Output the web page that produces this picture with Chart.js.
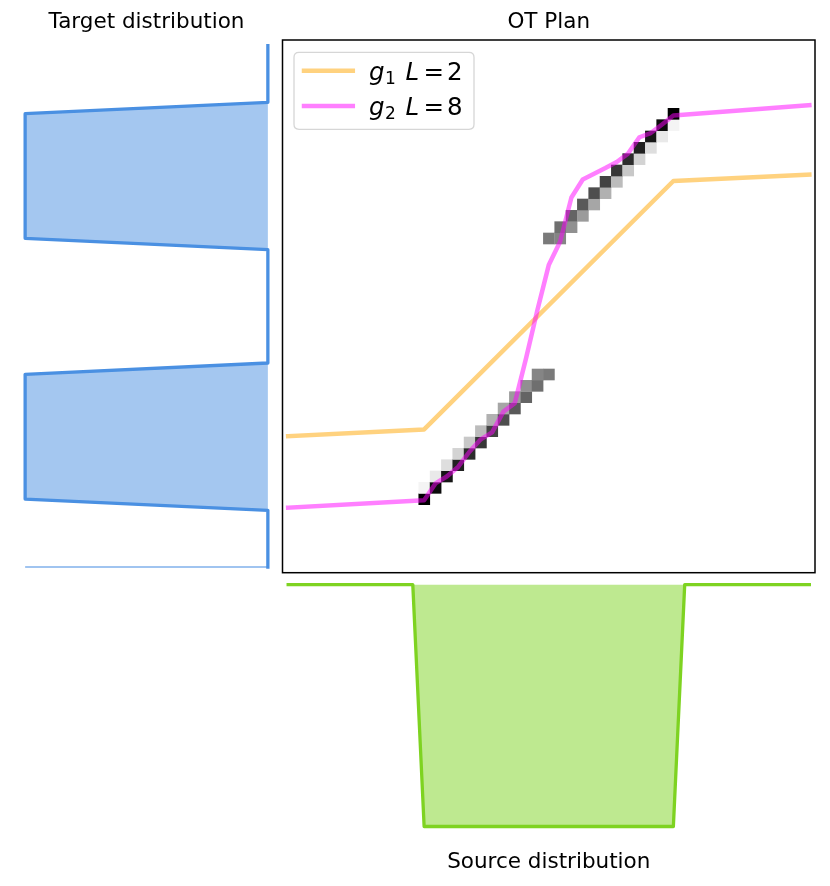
<!DOCTYPE html>
<html>
<head>
<meta charset="utf-8">
<script src="https://cdn.jsdelivr.net/npm/chart.js@4/dist/chart.umd.min.js"></script>
<style>
html,body{margin:0;padding:0;background:#fff;}
#wrap{position:relative;width:830px;height:886px;overflow:hidden;}
canvas{position:absolute;left:0;top:0;}
</style>
</head>
<body>
<div id="wrap">
<canvas id="left" width="830" height="886"></canvas>
<canvas id="bottom" width="830" height="886"></canvas>
<canvas id="main" width="830" height="886"></canvas>
</div>
<script>
// ---------- data ----------
const binIndex = [0,1,2,3,4,5,6,7,8,9,10,11,12,13,14,15,16,17,18,19,20,21,22,23,24,25,26,27,28,29,30,31,32,33,34,35,36,37,38,39,40,41,42,43,44,45,46];

// target distribution (left panel), one value per bin
const targetB = [0,0,0,0,0,0,
  0.0417,0.0417,0.0417,0.0417,0.0417,0.0417,0.0417,0.0417,0.0417,0.0417,0.0417,0.0417,
  0,0,0,0,0,0,0,0,0,0,0,
  0.0417,0.0417,0.0417,0.0417,0.0417,0.0417,0.0417,0.0417,0.0417,0.0417,0.0417,0.0417,
  0,0,0,0,0,0];

// source distribution (bottom panel), one value per bin
const sourceA = [0,0,0,0,0,0,0,0,0,0,0,0,
  0.0435,0.0435,0.0435,0.0435,0.0435,0.0435,0.0435,0.0435,0.0435,0.0435,0.0435,0.0435,
  0.0435,0.0435,0.0435,0.0435,0.0435,0.0435,0.0435,0.0435,0.0435,0.0435,0.0435,
  0,0,0,0,0,0,0,0,0,0,0,0];

// OT plan non-zero cells: source bin (column), target bin (row), relative weight
const cellCol = [12,12,13,13,14,14,15,15,16,16,17,17,18,18,19,19,20,20,21,21,22,22,23,23,
  24,24,25,25,26,26,27,27,28,28,29,29,30,30,31,31,32,32,33,33,34,34];
const cellRow = [40,39,39,38,38,37,37,36,36,35,35,34,34,33,33,32,32,31,31,30,30,29,29,17,
  17,16,16,15,15,14,14,13,13,12,12,11,11,10,10,9,9,8,8,7,7,6];
const cellWeight = [1.000,0.043,0.957,0.087,0.913,0.130,0.870,0.174,0.826,0.217,0.783,0.261,
  0.739,0.304,0.696,0.348,0.652,0.391,0.609,0.435,0.565,0.478,0.522,0.522,
  0.478,0.565,0.435,0.609,0.391,0.652,0.348,0.696,0.304,0.739,0.261,0.783,
  0.217,0.826,0.174,0.870,0.130,0.913,0.087,0.957,0.043,1.000];

// map g1 (L = 2)
const g1X = [0, 12, 34, 46];
const g1Y = [34.45, 33.86, 11.94, 11.37];

// map g2 (L = 8)
const g2X = [0, 12, 13, 14, 15, 16, 17, 18, 19, 20, 21, 22, 23, 24, 25, 26, 27, 28, 29, 30, 31, 32, 33, 34, 46];
const g2Y = [40.76, 40.10, 38.62, 38.01, 37.17, 35.83, 34.73, 34.12, 32.29, 31.54, 27.57, 23.33, 19.36, 17.30,
  13.40, 11.81, 11.31, 10.80, 10.26, 9.52, 8.08, 7.71, 6.95, 6.16, 5.24];

const seriesSymbol = ['g', 'g'];
const seriesSub = ['1', '2'];
const seriesL = ['2', '8'];
const seriesColor = ['rgba(255,165,0,0.5)', 'rgba(255,0,255,0.5)'];

const titleTarget = 'Target distribution';
const titleMain = 'OT Plan';
const titleSource = 'Source distribution';

// ---------- helpers ----------
const FONT = '"DejaVu Sans", "Liberation Sans", sans-serif';
const bMax = Math.max(...targetB);
const aMax = Math.max(...sourceA);
const BLUE = '#4a90e2';
const GREEN = '#7ed321';

function baseOptions() {
  return {
    responsive: false,
    maintainAspectRatio: false,
    animation: false,
    devicePixelRatio: 1,
    events: [],
    elements: { point: { radius: 0 }, line: { tension: 0 } },
  };
}
function titleCfg(text, position, pad) {
  return {
    display: true, text: text, position: position, color: '#000',
    font: { family: FONT, size: 21.5, weight: 'normal', lineHeight: 1.2 },
    padding: pad
  };
}

// ---------- left: target distribution ----------
(function () {
  const o = baseOptions();
  o.indexAxis = 'y';
  o.layout = { padding: { left: 13, right: 550, top: 0, bottom: 313.3 } };
  o.scales = {
    x: { type: 'linear', reverse: true, min: -0.05 * bMax, max: 1.05 * bMax, display: false },
    y: { type: 'linear', reverse: true, min: -0.5, max: 46.5, display: false }
  };
  o.plugins = {
    legend: { display: false }, tooltip: { enabled: false },
    title: titleCfg(titleTarget, 'top', { top: 9.8, bottom: 4.4 })
  };
  new Chart(document.getElementById('left'), {
    type: 'line',
    data: {
      datasets: [
        {
          label: 'target', data: binIndex.map(i => ({ x: targetB[i], y: i })),
          borderColor: BLUE, borderWidth: 3.3, backgroundColor: 'rgba(74,144,226,0.5)',
          fill: 'origin', borderCapStyle: 'square', borderJoinStyle: 'round', pointRadius: 0
        },
        {
          label: 'target edge', data: [{ x: 0, y: 46 }, { x: bMax, y: 46 }],
          borderColor: 'rgba(74,144,226,0.7)', borderWidth: 1.6, fill: false, pointRadius: 0
        }
      ]
    },
    options: o
  });
})();

// ---------- bottom: source distribution ----------
(function () {
  const o = baseOptions();
  o.layout = { padding: { left: 282.5, right: 15, top: 572.6, bottom: 6.4 } };
  o.scales = {
    x: { type: 'linear', min: -0.5, max: 46.5, display: false },
    y: { type: 'linear', reverse: true, min: -0.05 * aMax, max: 1.05 * aMax, display: false }
  };
  o.plugins = {
    legend: { display: false }, tooltip: { enabled: false },
    title: titleCfg(titleSource, 'bottom', { top: 10.6, bottom: 4.6 })
  };
  new Chart(document.getElementById('bottom'), {
    type: 'line',
    data: {
      datasets: [{
        label: 'source', data: binIndex.map(i => ({ x: i, y: sourceA[i] })),
        borderColor: GREEN, borderWidth: 3.3, backgroundColor: 'rgba(126,211,33,0.5)',
        fill: 'origin', borderCapStyle: 'square', borderJoinStyle: 'round', pointRadius: 0
      }]
    },
    options: o
  });
})();

// ---------- main: OT plan ----------
const planPlugin = {
  id: 'planPlugin',
  beforeDatasetsDraw(chart) {
    const { ctx } = chart;
    const xs = chart.scales.x, ys = chart.scales.y;
    ctx.save();
    for (let k = 0; k < cellCol.length; k++) {
      const x0 = xs.getPixelForValue(cellCol[k] - 0.5), x1 = xs.getPixelForValue(cellCol[k] + 0.5);
      const y0 = ys.getPixelForValue(cellRow[k] - 0.5), y1 = ys.getPixelForValue(cellRow[k] + 0.5);
      const g = Math.round(255 * (1 - cellWeight[k]));
      ctx.fillStyle = 'rgb(' + g + ',' + g + ',' + g + ')';
      ctx.fillRect(Math.min(x0, x1), Math.min(y0, y1), Math.abs(x1 - x0) + 0.3, Math.abs(y1 - y0) + 0.3);
    }
    ctx.restore();
  },
  afterDraw(chart) {
    const { ctx, chartArea: a } = chart;
    ctx.save();
    // frame
    ctx.strokeStyle = '#000';
    ctx.lineWidth = 1.5;
    ctx.strokeRect(a.left, a.top, a.right - a.left, a.bottom - a.top);
    // legend box
    const bx = a.left + 11.5, by = a.top + 12.3, bw = 180, bh = 77, r = 5;
    ctx.beginPath();
    ctx.moveTo(bx + r, by);
    ctx.lineTo(bx + bw - r, by); ctx.quadraticCurveTo(bx + bw, by, bx + bw, by + r);
    ctx.lineTo(bx + bw, by + bh - r); ctx.quadraticCurveTo(bx + bw, by + bh, bx + bw - r, by + bh);
    ctx.lineTo(bx + r, by + bh); ctx.quadraticCurveTo(bx, by + bh, bx, by + bh - r);
    ctx.lineTo(bx, by + r); ctx.quadraticCurveTo(bx, by, bx + r, by);
    ctx.closePath();
    ctx.fillStyle = 'rgba(255,255,255,0.8)';
    ctx.fill();
    ctx.strokeStyle = 'rgba(204,204,204,0.8)';
    ctx.lineWidth = 1.3;
    ctx.stroke();
    // entries
    for (let s = 0; s < seriesSymbol.length; s++) {
      const cy = by + 18.4 + s * 35.3;
      ctx.beginPath();
      ctx.strokeStyle = seriesColor[s];
      ctx.lineWidth = 4.5;
      ctx.lineCap = 'square';
      ctx.moveTo(bx + 10, cy);
      ctx.lineTo(bx + 58.8, cy);
      ctx.stroke();
      const tx = bx + 75, base = cy + 9.2;
      ctx.fillStyle = '#000';
      ctx.textAlign = 'left';
      ctx.textBaseline = 'alphabetic';
      ctx.font = 'italic 24.5px ' + FONT;
      ctx.fillText(seriesSymbol[s], tx, base);
      ctx.font = '17px ' + FONT;
      ctx.fillText(seriesSub[s], tx + 16, base + 3.8);
      ctx.font = 'italic 24.5px ' + FONT;
      ctx.fillText('L', tx + 36.5, base);
      ctx.font = '24.5px ' + FONT;
      ctx.fillText('=', tx + 54.5, base);
      ctx.fillText(seriesL[s], tx + 78, base);
    }
    ctx.restore();
  }
};

(function () {
  const o = baseOptions();
  o.layout = { padding: { left: 282.5, right: 15, top: 0, bottom: 313.3 } };
  o.scales = {
    x: { type: 'linear', min: -0.5, max: 46.5, display: false },
    y: { type: 'linear', reverse: true, min: -0.5, max: 46.5, display: false }
  };
  o.plugins = {
    legend: { display: false }, tooltip: { enabled: false },
    title: titleCfg(titleMain, 'top', { top: 9.8, bottom: 4.4 })
  };
  new Chart(document.getElementById('main'), {
    type: 'line',
    data: {
      datasets: [
        {
          label: 'g\u2081  L = 2', data: g1X.map((v, i) => ({ x: v, y: g1Y[i] })),
          borderColor: seriesColor[0], borderWidth: 4.5, fill: false, order: 2,
          borderCapStyle: 'square', borderJoinStyle: 'round', pointRadius: 0
        },
        {
          label: 'g\u2082  L = 8', data: g2X.map((v, i) => ({ x: v, y: g2Y[i] })),
          borderColor: seriesColor[1], borderWidth: 4.5, fill: false, order: 1,
          borderCapStyle: 'square', borderJoinStyle: 'round', pointRadius: 0
        }
      ]
    },
    options: o,
    plugins: [planPlugin]
  });
})();
</script>
</body>
</html>
